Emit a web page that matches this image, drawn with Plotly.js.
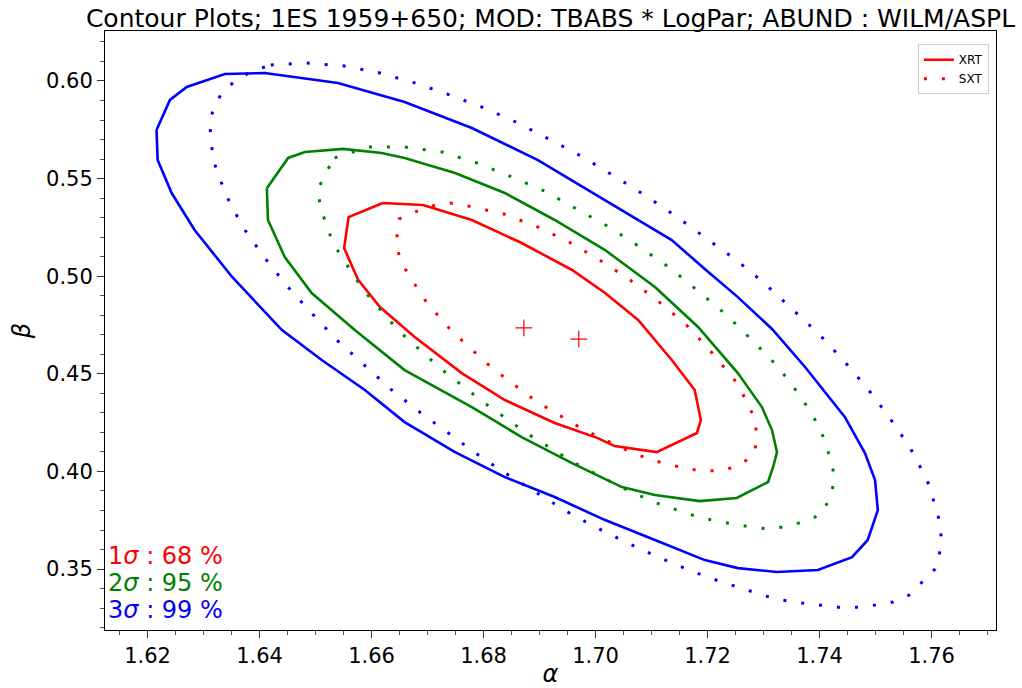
<!DOCTYPE html>
<html>
<head>
<meta charset="utf-8">
<script src="https://cdn.plot.ly/plotly-3.0.1.min.js"></script>
<style>html,body{margin:0;padding:0;background:#fff;}#chart{width:1022px;height:688px;}</style>
</head>
<body>
<div id="chart"></div>
<script>
// ---- Data (alpha, beta) ----
const xrt1Alpha = [1.6620,1.6692,1.6779,1.6868,1.6958,1.7017,1.7076,1.7136,1.7177,1.7188,1.7181,1.7109,1.7034,1.7004,1.6927,1.6838,1.6761,1.6677,1.6615,1.6576,1.6551,1.6559];
const xrt1Beta  = [0.5375,0.5365,0.5288,0.5170,0.5032,0.4914,0.4776,0.4571,0.4417,0.4263,0.4197,0.4099,0.4130,0.4171,0.4248,0.4366,0.4504,0.4689,0.4842,0.4981,0.5144,0.5303];

const xrt2Alpha = [1.6413,1.6451,1.6481,1.6549,1.6618,1.6659,1.6749,1.6838,1.6927,1.7017,1.7106,1.7183,1.7254,1.7297,1.7315,1.7324,1.7317,1.7308,1.7252,1.7186,1.7106,1.7047,1.6958,1.6868,1.6779,1.6659,1.6570,1.6493,1.6445,1.6415];
const xrt2Beta  = [0.5450,0.5606,0.5636,0.5652,0.5631,0.5606,0.5529,0.5426,0.5288,0.5134,0.4945,0.4740,0.4504,0.4330,0.4212,0.4099,0.4023,0.3946,0.3864,0.3848,0.3879,0.3920,0.4043,0.4176,0.4330,0.4519,0.4724,0.4914,0.5098,0.5288];

const xrt3Alpha = [1.6216,1.6240,1.6270,1.6338,1.6409,1.6540,1.6659,1.6779,1.6897,1.7017,1.7136,1.7195,1.7254,1.7315,1.7374,1.7445,1.7481,1.7499,1.7504,1.7486,1.7458,1.7397,1.7324,1.7254,1.7195,1.7106,1.7017,1.6927,1.6838,1.6749,1.6659,1.6588,1.6511,1.6440,1.6351,1.6284,1.6243,1.6218];
const xrt3Beta  = [0.5749,0.5903,0.5969,0.6036,0.6041,0.5990,0.5892,0.5759,0.5595,0.5390,0.5185,0.5037,0.4893,0.4730,0.4535,0.4279,0.4094,0.3956,0.3802,0.3649,0.3561,0.3495,0.3485,0.3505,0.3546,0.3649,0.3751,0.3869,0.3971,0.4099,0.4253,0.4417,0.4571,0.4724,0.4996,0.5237,0.5426,0.5595];

const sxt1Alpha = [1.6708,1.6740,1.6772,1.6836,1.6897,1.6956,1.7013,1.7067,1.7118,1.7168,1.7213,1.7254,1.7283,1.7288,1.7284,1.7259,1.7229,1.7199,1.7165,1.7101,1.7067,1.6977,1.6893,1.6815,1.6743,1.6699,1.6663,1.6649,1.6645,1.6649,1.6677];
const sxt1Beta  = [0.5360,0.5375,0.5360,0.5319,0.5252,0.5170,0.5073,0.4970,0.4858,0.4735,0.4591,0.4448,0.4279,0.4186,0.4094,0.4033,0.4007,0.4002,0.4012,0.4058,0.4094,0.4217,0.4361,0.4530,0.4719,0.4863,0.5022,0.5104,0.5196,0.5293,0.5329];

const sxt2Alpha = [1.6534,1.6595,1.6659,1.6726,1.6788,1.6851,1.6909,1.6967,1.7024,1.7079,1.7133,1.7183,1.7234,1.7281,1.7326,1.7367,1.7401,1.7422,1.7427,1.7418,1.7404,1.7376,1.7343,1.7311,1.7279,1.7215,1.7172,1.7109,1.7049,1.6963,1.6879,1.6799,1.6722,1.6649,1.6584,1.6531,1.6509,1.6504,1.6517];
const sxt2Beta  = [0.5606,0.5662,0.5662,0.5636,0.5580,0.5508,0.5436,0.5344,0.5252,0.5150,0.5042,0.4924,0.4801,0.4668,0.4535,0.4381,0.4222,0.4043,0.3956,0.3864,0.3782,0.3746,0.3720,0.3705,0.3715,0.3746,0.3777,0.3838,0.3915,0.4043,0.4192,0.4356,0.4530,0.4719,0.4934,0.5170,0.5349,0.5442,0.5524];

const sxt3Alpha = [1.6420,1.6484,1.6551,1.6615,1.6677,1.6740,1.6801,1.6861,1.6920,1.6977,1.7033,1.7090,1.7143,1.7195,1.7251,1.7301,1.7349,1.7397,1.7442,1.7485,1.7524,1.7561,1.7592,1.7611,1.7617,1.7615,1.7606,1.7583,1.7560,1.7531,1.7499,1.7467,1.7433,1.7368,1.7322,1.7259,1.7199,1.7136,1.7076,1.7017,1.6959,1.6904,1.6847,1.6793,1.6740,1.6686,1.6634,1.6586,1.6538,1.6493,1.6449,1.6408,1.6370,1.6340,1.6317,1.6311,1.6318,1.6334,1.6360,1.6388];
const sxt3Beta  = [0.6082,0.6092,0.6077,0.6041,0.5990,0.5928,0.5862,0.5785,0.5698,0.5611,0.5513,0.5411,0.5308,0.5201,0.5083,0.4965,0.4837,0.4709,0.4571,0.4427,0.4279,0.4125,0.3956,0.3782,0.3690,0.3592,0.3500,0.3433,0.3367,0.3331,0.3316,0.3305,0.3305,0.3326,0.3346,0.3403,0.3459,0.3531,0.3608,0.3690,0.3777,0.3874,0.3976,0.4079,0.4192,0.4304,0.4422,0.4545,0.4673,0.4811,0.4950,0.5098,0.5252,0.5416,0.5595,0.5780,0.5867,0.5944,0.6010,0.6051];

const bestAlpha = [1.6872, 1.6970];   // XRT, SXT best fits
const bestBeta  = [0.4735, 0.4678];

const sigmaLabels = ["1<i>σ</i> : 68 %", "2<i>σ</i> : 95 %", "3<i>σ</i> : 99 %"];
const titleText = "Contour Plots; 1ES 1959+650; MOD: TBABS * LogPar; ABUND : WILM/ASPL";

// ---- Styles ----
const RED = "#ff0000", GREEN = "#008000", BLUE = "#0000ff";
const DOT = "3px,15px";
const FONT = "DejaVu Sans";

function closed(a){ return a.concat([a[0]]); }
function contour(xs, ys, color, dotted, name, showlegend){
  return {
    type: "scatter", mode: "lines",
    x: closed(xs), y: closed(ys),
    name: name, showlegend: showlegend,
    line: {color: color, width: dotted ? 3 : 2.6, dash: dotted ? DOT : "solid"},
    hoverinfo: "skip"
  };
}

const traces = [
  contour(xrt1Alpha, xrt1Beta, RED, false, "XRT", true),
  contour(sxt1Alpha, sxt1Beta, RED, true, "SXT", true),
  contour(xrt2Alpha, xrt2Beta, GREEN, false, "", false),
  contour(xrt3Alpha, xrt3Beta, BLUE, false, "", false),
  contour(sxt2Alpha, sxt2Beta, GREEN, true, "", false),
  contour(sxt3Alpha, sxt3Beta, BLUE, true, "", false),
  {type:"scatter", mode:"markers", x: bestAlpha, y: bestBeta, showlegend:false,
   marker:{symbol:"cross-thin", size:12, color:RED, line:{color:RED, width:1.2}}, hoverinfo:"skip"}
];

const sigmaColors = [RED, GREEN, BLUE];
const sigmaY = [0.1235, 0.0785, 0.0334];
const annotations = sigmaLabels.map((t,i)=>({
  text: t, xref:"paper", yref:"paper", x: 0.001, y: sigmaY[i],
  xanchor:"left", yanchor:"middle", showarrow:false,
  font:{family:FONT, size:24, color:sigmaColors[i]}
}));

const axisCommon = {
  showgrid:false, zeroline:false, showline:true, mirror:true,
  linecolor:"#000", linewidth:1,
  ticks:"outside", ticklen:7, tickwidth:1, tickcolor:"#333",
  tickfont:{family:FONT, size:21, color:"#000"},
  tickformat:".2f"
};

const layout = {
  width:1022, height:688,
  margin:{l:105, r:26, t:31, b:58},
  paper_bgcolor:"#fff", plot_bgcolor:"#fff",
  title:{text:titleText, x:0.5, xref:"paper", xanchor:"center", y:1-18/688, yref:"container", yanchor:"middle",
         font:{family:FONT, size:25, color:"#000"}},
  xaxis: Object.assign({}, axisCommon, {
    range:[1.6124, 1.7715], dtick:0.02, tick0:1.62,
    minor:{dtick:0.005, tick0:1.62, ticks:"outside", ticklen:4, tickcolor:"#555", showgrid:false},
    title:{text:"<i>α</i>", font:{family:FONT, size:24, color:"#000"}, standoff:2}
  }),
  yaxis: Object.assign({}, axisCommon, {
    range:[0.3188, 0.6256], dtick:0.05, tick0:0.35,
    minor:{dtick:0.01, tick0:0.35, ticks:"outside", ticklen:4, tickcolor:"#555", showgrid:false},
    title:{text:"<i>β</i>", font:{family:FONT, size:24, color:"#000"}, standoff:8}
  }),
  legend:{x:0.992, y:0.978, xanchor:"right", yanchor:"top",
          bgcolor:"#fff", bordercolor:"#ccc", borderwidth:1,
          font:{family:FONT, size:12, color:"#000"}, tracegroupgap:0},
  annotations: annotations,
  showlegend:true
};

Plotly.newPlot("chart", traces, layout, {displayModeBar:false, staticPlot:true});
</script>
</body>
</html>
